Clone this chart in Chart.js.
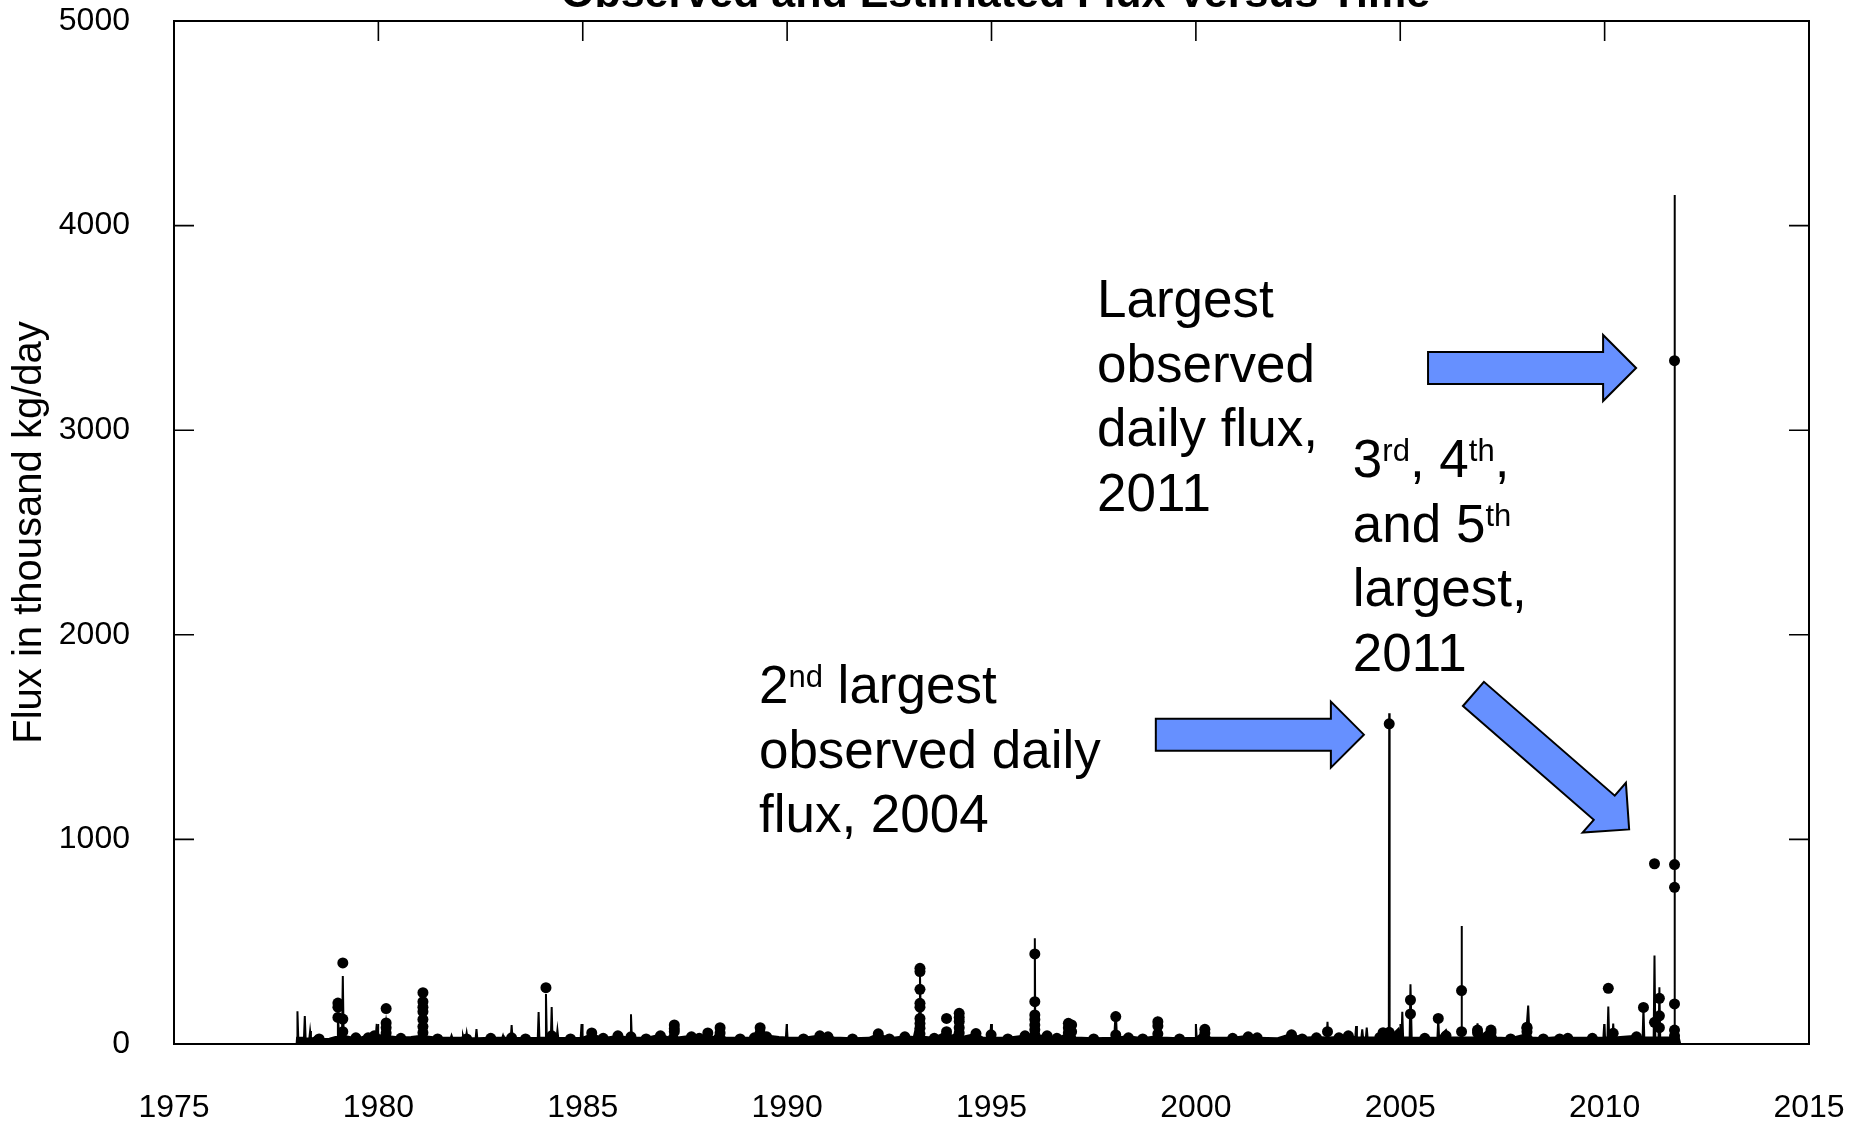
<!DOCTYPE html>
<html>
<head>
<meta charset="utf-8">
<script src="https://cdn.jsdelivr.net/npm/chart.js@4/dist/chart.umd.min.js"></script>
<style>
  html, body { margin: 0; padding: 0; background: #fff; overflow: hidden; }
  #wrap { position: relative; width: 1852px; height: 1121px; }
</style>
</head>
<body>
<div id="wrap"><canvas id="fluxChart"></canvas></div>
<script>
// estimated daily flux (line), decimal year vs thousand kg/day
const estYears = [
  1978.00, 1978.01, 1978.02, 1978.04, 1978.18, 1978.20, 1978.22, 1978.31, 1978.33, 1978.35,
  1978.50, 1978.62, 1978.80, 1978.95, 1978.99, 1979.01, 1979.04, 1979.11, 1979.13, 1979.15,
  1979.35, 1979.60, 1979.86, 1979.94, 1979.96, 1979.98, 1980.15, 1980.19, 1980.24, 1980.55,
  1980.80, 1981.05, 1981.09, 1981.13, 1981.45, 1981.77, 1981.79, 1981.81, 1982.05, 1982.07,
  1982.09, 1982.14, 1982.16, 1982.18, 1982.38, 1982.40, 1982.42, 1982.75, 1983.03, 1983.05,
  1983.07, 1983.24, 1983.26, 1983.28, 1983.60, 1983.90, 1983.92, 1983.94, 1984.08, 1984.10,
  1984.12, 1984.22, 1984.24, 1984.26, 1984.36, 1984.38, 1984.40, 1984.70, 1984.95, 1984.97,
  1984.99, 1985.22, 1985.50, 1985.86, 1986.10, 1986.16, 1986.18, 1986.20, 1986.55, 1986.90,
  1987.10, 1987.24, 1987.32, 1987.66, 1987.85, 1988.06, 1988.20, 1988.36, 1988.48, 1988.85,
  1989.20, 1989.34, 1989.50, 1989.80, 1989.97, 1989.99, 1990.01, 1990.40, 1990.80, 1991.00,
  1991.15, 1991.60, 1992.00, 1992.23, 1992.50, 1992.88, 1993.10, 1993.23, 1993.25, 1993.27,
  1993.32, 1993.60, 1993.90, 1994.00, 1994.19, 1994.21, 1994.24, 1994.30, 1994.62, 1994.80,
  1994.97, 1994.99, 1995.01, 1995.40, 1995.82, 1996.00, 1996.05, 1996.06, 1996.07, 1996.12,
  1996.36, 1996.60, 1996.85, 1996.88, 1996.96, 1997.05, 1997.50, 1998.00, 1998.04, 1998.07,
  1998.35, 1998.70, 1999.03, 1999.07, 1999.13, 1999.60, 1999.98, 2000.00, 2000.02, 2000.22,
  2000.35, 2000.90, 2001.28, 2001.50, 2002.00, 2002.34, 2002.60, 2002.95, 2003.20, 2003.22,
  2003.24, 2003.50, 2003.73, 2003.90, 2003.92, 2003.94, 2004.05, 2004.07, 2004.09, 2004.16,
  2004.18, 2004.20, 2004.50, 2004.58, 2004.72, 2004.73, 2004.74, 2004.96, 2005.03, 2005.05,
  2005.07, 2005.23, 2005.25, 2005.28, 2005.60, 2005.91, 2005.93, 2005.95, 2006.12, 2006.20,
  2006.49, 2006.50, 2006.51, 2006.87, 2006.89, 2006.92, 2007.22, 2007.35, 2007.70, 2008.08,
  2008.13, 2008.16, 2008.22, 2008.50, 2008.90, 2009.10, 2009.70, 2009.97, 2009.99, 2010.01,
  2010.07, 2010.09, 2010.11, 2010.19, 2010.21, 2010.23, 2010.78, 2010.93, 2010.95, 2010.97,
  2011.20, 2011.22, 2011.24, 2011.32, 2011.34, 2011.36, 2011.70, 2011.71, 2011.72, 2011.78,
  2011.85
];
const estFlux = [
  0, 30, 160, 30, 30, 137, 28, 26, 63, 26,
  34, 24, 26, 34, 36, 135, 38, 40, 332, 40,
  32, 34, 40, 48, 98, 44, 40, 110, 38, 32,
  34, 40, 240, 38, 30, 30, 42, 30, 30, 42,
  28, 28, 54, 28, 28, 73, 28, 30, 30, 42,
  30, 30, 93, 30, 28, 30, 156, 30, 30, 244,
  30, 30, 181, 30, 30, 68, 30, 28, 30, 98,
  30, 48, 28, 40, 32, 32, 145, 32, 30, 46,
  32, 80, 32, 40, 30, 50, 32, 72, 32, 30,
  32, 70, 42, 34, 32, 98, 32, 30, 42, 38,
  32, 28, 30, 50, 28, 38, 34, 150, 345, 130,
  36, 30, 60, 36, 60, 140, 70, 36, 50, 30,
  32, 98, 32, 30, 42, 36, 80, 517, 90, 40,
  42, 30, 48, 95, 80, 32, 28, 30, 158, 32,
  38, 28, 38, 105, 32, 28, 30, 98, 30, 68,
  30, 30, 40, 30, 28, 50, 30, 34, 32, 109,
  32, 34, 46, 32, 88, 32, 32, 72, 32, 32,
  80, 32, 32, 58, 32, 1617, 32, 75, 32, 158,
  32, 32, 292, 32, 30, 32, 125, 32, 68, 32,
  32, 577, 32, 32, 101, 32, 78, 32, 28, 48,
  188, 48, 32, 28, 34, 30, 30, 32, 98, 32,
  32, 183, 32, 32, 100, 32, 40, 32, 179, 32,
  32, 433, 32, 32, 277, 32, 32, 4150, 32, 60,
  0
];

// observed daily flux (dots)
const obsYears = [
  1978.50, 1979.01, 1979.01, 1979.01, 1979.13, 1979.13, 1979.13, 1979.90,
  1980.19, 1980.19, 1980.19, 1980.19, 1980.19,
  1981.09, 1981.09, 1981.09, 1981.09, 1981.09, 1981.09, 1981.09,
  1982.16, 1983.26, 1984.10, 1984.24, 1985.22, 1985.86, 1986.18, 1986.90,
  1987.24, 1987.24, 1987.24, 1987.66, 1988.06, 1988.36, 1988.36, 1989.34, 1989.34, 1989.50,
  1990.80, 1991.00, 1992.23, 1992.88,
  1993.25, 1993.25, 1993.25, 1993.25, 1993.25, 1993.25, 1993.25, 1993.25, 1993.25,
  1993.90, 1993.90, 1993.90, 1994.21, 1994.21, 1994.21, 1994.21, 1994.21,
  1994.62, 1994.99, 1995.82,
  1996.06, 1996.06, 1996.06, 1996.06, 1996.06, 1996.06, 1996.06,
  1996.36, 1996.88, 1996.88, 1996.88, 1996.96, 1996.96,
  1998.04, 1998.04, 1998.35, 1999.07, 1999.07, 1999.07, 2000.22, 2000.22,
  2001.28, 2002.34, 2003.22, 2003.73, 2004.58, 2004.73, 2004.73, 2004.96,
  2005.25, 2005.25, 2005.93, 2006.12, 2006.50, 2006.50, 2006.89, 2006.89,
  2007.22, 2007.22, 2008.10, 2008.10, 2008.10, 2008.90,
  2010.09, 2010.21, 2010.78, 2010.95,
  2011.22, 2011.22, 2011.34, 2011.34, 2011.34,
  2011.71, 2011.71, 2011.71, 2011.71, 2011.71, 2011.71,
  1978.55, 1979.45, 1979.75, 1980.55, 1981.45, 1982.75, 1983.60, 1984.70, 1985.50,
  1986.55, 1987.85, 1988.85, 1989.20, 1990.40, 1991.60, 1992.50, 1993.60, 1995.40,
  1996.60, 1997.50, 1998.70, 1999.60, 2000.90, 2001.50, 2002.60, 2002.95, 2003.50,
  2004.50, 2005.60, 2007.70, 2008.50, 2009.10, 2009.70
];
const obsFlux = [
  15, 200, 180, 130, 396, 122, 60, 40,
  173, 103, 80, 54, 30,
  251, 207, 180, 158, 120, 85, 55,
  25, 30, 275, 40, 54, 40, 35, 40,
  93, 75, 60, 35, 54, 80, 54, 80, 54, 35,
  40, 35, 50, 35,
  370, 354, 267, 199, 180, 125, 100, 77, 50,
  125, 60, 40, 150, 130, 110, 80, 54,
  51, 45, 40,
  440, 207, 142, 120, 93, 70, 45,
  40, 101, 80, 54, 93, 60,
  134, 44, 30, 109, 88, 50, 72, 54,
  35, 45, 60, 40, 55, 1565, 57, 40,
  215, 147, 125, 40, 261, 60, 68, 55,
  68, 55, 82, 77, 60, 25,
  272, 52, 35, 179,
  881, 106, 223, 138, 80,
  3340, 877, 766, 196, 68, 40,
  25, 30, 30, 28, 25, 28, 25, 25, 28,
  25, 28, 25, 30, 25, 25, 25, 28, 25,
  28, 25, 25, 25, 28, 30, 25, 30, 30,
  32, 28, 25, 25, 28, 28
];

const yearTicks = [1975, 1980, 1985, 1990, 1995, 2000, 2005, 2010, 2015];
const fluxTicks = [0, 1000, 2000, 3000, 4000, 5000];

// callouts: text anchored at data coords (left edge, first baseline); ^..^ marks superscript
const notes = [
  { year: 1997.58, flux: 3553, lines: ['Largest', 'observed', 'daily flux,', '2011'] },
  { year: 2003.84, flux: 2771, lines: ['3^rd^, 4^th^,', 'and 5^th^', 'largest,', '2011'] },
  { year: 1989.31, flux: 1665, lines: ['2^nd^ largest', 'observed daily', 'flux, 2004'] }
];
// arrows: tail -> tip in data coords
const arrows = [
  { from: [2005.68, 3304], to: [2010.77, 3304] },
  { from: [1999.02, 1512], to: [2004.11, 1512] },
  { from: [2006.79, 1711], to: [2010.60, 1049] }
];

const FONT = '"Liberation Sans", Arial, Helvetica, sans-serif';
Chart.defaults.color = '#000';
Chart.defaults.font.family = FONT;

const framePlugin = {
  id: 'frame',
  afterDatasetsDraw(chart) {
    const { ctx, chartArea: a, scales } = chart;
    ctx.save();
    ctx.strokeStyle = '#000';
    ctx.lineWidth = 2;
    ctx.strokeRect(a.left, a.top, a.right - a.left, a.bottom - a.top);
    ctx.lineWidth = 1.6;
    ctx.beginPath();
    const tl = 20;
    yearTicks.forEach(v => {
      const x = scales.x.getPixelForValue(v);
      ctx.moveTo(x, a.top); ctx.lineTo(x, a.top + tl);
      ctx.moveTo(x, a.bottom); ctx.lineTo(x, a.bottom - tl);
    });
    fluxTicks.forEach(v => {
      const y = scales.y.getPixelForValue(v);
      ctx.moveTo(a.left, y); ctx.lineTo(a.left + tl, y);
      ctx.moveTo(a.right, y); ctx.lineTo(a.right - tl, y);
    });
    ctx.stroke();

    // title, partly above the page edge as in the original
    ctx.fillStyle = '#000';
    ctx.font = 'bold 43px ' + FONT;
    ctx.textAlign = 'center';
    ctx.textBaseline = 'alphabetic';
    ctx.fillText('Observed and Estimated Flux Versus Time', (a.left + a.right) / 2 + 4, 7);
    ctx.restore();
  }
};

const notesPlugin = {
  id: 'notes',
  afterDraw(chart) {
    const { ctx, scales } = chart;
    ctx.save();
    // arrows
    arrows.forEach(ar => {
      const x0 = scales.x.getPixelForValue(ar.from[0]), y0 = scales.y.getPixelForValue(ar.from[1]);
      const x1 = scales.x.getPixelForValue(ar.to[0]), y1 = scales.y.getPixelForValue(ar.to[1]);
      const len = Math.hypot(x1 - x0, y1 - y0);
      const ux = (x1 - x0) / len, uy = (y1 - y0) / len;
      const nx = -uy, ny = ux;
      const s = 16, h = 33, hl = 33;
      const bx = x1 - ux * hl, by = y1 - uy * hl;
      ctx.beginPath();
      ctx.moveTo(x0 + nx * s, y0 + ny * s);
      ctx.lineTo(bx + nx * s, by + ny * s);
      ctx.lineTo(bx + nx * h, by + ny * h);
      ctx.lineTo(x1, y1);
      ctx.lineTo(bx - nx * h, by - ny * h);
      ctx.lineTo(bx - nx * s, by - ny * s);
      ctx.lineTo(x0 - nx * s, y0 - ny * s);
      ctx.closePath();
      ctx.fillStyle = '#6690ff';
      ctx.fill();
      ctx.lineWidth = 2;
      ctx.strokeStyle = '#000';
      ctx.stroke();
    });
    // text
    ctx.fillStyle = '#000';
    ctx.textAlign = 'left';
    ctx.textBaseline = 'alphabetic';
    notes.forEach(n => {
      const x = scales.x.getPixelForValue(n.year);
      let y = scales.y.getPixelForValue(n.flux);
      n.lines.forEach(line => {
        let cx = x;
        line.split('^').forEach((part, i) => {
          if (!part) return;
          const sup = i % 2 === 1;
          ctx.font = (sup ? '31px ' : '53px ') + FONT;
          ctx.fillText(part, cx, sup ? y - 16 : y);
          cx += ctx.measureText(part).width;
        });
        y += 64.5;
      });
    });
    ctx.restore();
  }
};

// invisible tick marks only push the labels away from the frame
const hiddenTicks = len => ({
  display: true, drawOnChartArea: false, drawTicks: true,
  tickLength: len, tickColor: 'rgba(0,0,0,0)'
});

new Chart(document.getElementById('fluxChart').getContext('2d'), {
  type: 'line',
  data: {
    datasets: [
      {
        label: 'Estimated',
        data: estYears.map((x, i) => ({ x: x, y: estFlux[i] })),
        borderColor: '#000',
        backgroundColor: '#000',
        borderWidth: 2,
        pointRadius: 0,
        fill: 'origin',
        tension: 0,
        order: 2
      },
      {
        label: 'Observed',
        type: 'scatter',
        data: obsYears.map((x, i) => ({ x: x, y: obsFlux[i] })),
        backgroundColor: '#000',
        borderWidth: 0,
        pointRadius: 5.5,
        order: 1
      }
    ]
  },
  options: {
    responsive: true,
    maintainAspectRatio: false,
    devicePixelRatio: 1,
    animation: false,
    layout: { padding: { left: 0, right: 43, top: 21, bottom: 0 } },
    plugins: { legend: { display: false }, title: { display: false }, tooltip: { enabled: false } },
    scales: {
      x: {
        type: 'linear',
        min: 1975, max: 2015,
        grid: hiddenTicks(45),
        border: { display: false },
        afterFit: s => { s.height = 77; },
        afterBuildTicks: s => { s.ticks = yearTicks.map(v => ({ value: v })); },
        ticks: { padding: 0, font: { size: 32 }, maxRotation: 0, callback: v => String(v) }
      },
      y: {
        min: 0, max: 5000,
        grid: hiddenTicks(44),
        border: { display: false },
        afterFit: s => { s.width = 174; },
        afterBuildTicks: s => { s.ticks = fluxTicks.map(v => ({ value: v })); },
        ticks: { padding: 0, font: { size: 32 }, callback: v => String(v) },
        title: {
          display: true,
          text: 'Flux in thousand kg/day',
          font: { size: 40 },
          padding: { top: 6, bottom: 0 }
        }
      }
    }
  },
  plugins: [framePlugin, notesPlugin]
});
</script>
</body>
</html>
